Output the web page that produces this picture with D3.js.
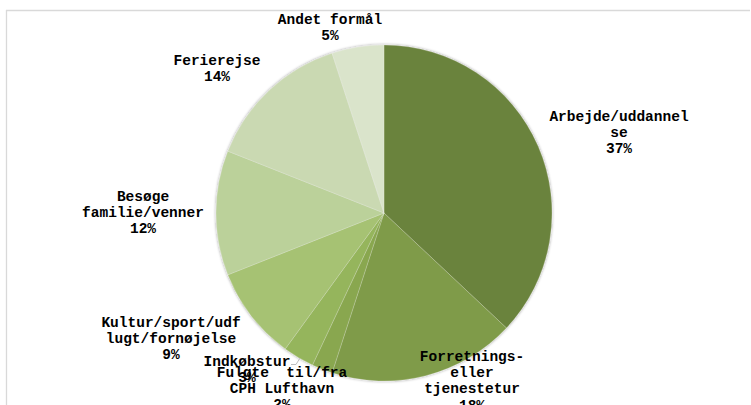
<!DOCTYPE html>
<html>
<head>
<meta charset="utf-8">
<script src="https://cdn.jsdelivr.net/npm/d3@7"></script>
<style>
html,body{margin:0;padding:0;background:#fff;}
svg{display:block;}
</style>
</head>
<body>
<svg id="chart" width="751" height="405"></svg>
<script>
const categories = [
  "Arbejde/uddannelse",
  "Forretnings- eller tjenestetur",
  "Fulgte til/fra CPH Lufthavn",
  "Indkøbstur",
  "Kultur/sport/udflugt/fornøjelse",
  "Besøge familie/venner",
  "Ferierejse",
  "Andet formål"
];
const values = [37, 18, 2, 3, 9, 12, 14, 5];
const labelLines = [
  ["Arbejde/uddannel", "se", "37%"],
  ["Forretnings-", "eller", "tjenestetur", "18%"],
  ["Fulgte  til/fra", "CPH Lufthavn", "2%"],
  ["Indkøbstur", "3%"],
  ["Kultur/sport/udf", "lugt/fornøjelse", "9%"],
  ["Besøge", "familie/venner", "12%"],
  ["Ferierejse", "14%"],
  ["Andet formål", "5%"]
];

// styles / layout (kept separate from data)
const colors = ["#6b833c", "#7f9b48", "#89a74f", "#95b55b", "#a6c273", "#bbd19a", "#cad9b2", "#dae4cb"];
const labelPos = [
  [619, 117], [472, 357], [282, 373], [247, 362],
  [171, 323], [143, 197], [217, 61], [330, 20]
];
const lineH = 16.2;

const svg = d3.select("#chart");
const W = 751, H = 405;

// chart border (top and left lines)
svg.append("line").attr("x1", 6).attr("y1", 10.5).attr("x2", 750).attr("y2", 10.5)
  .attr("stroke", "#d9d9d9").attr("stroke-width", 1.3);
svg.append("line").attr("x1", 6.5).attr("y1", 10).attr("x2", 6.5).attr("y2", H)
  .attr("stroke", "#d9d9d9").attr("stroke-width", 1.3);

const defs = svg.append("defs");
const f = defs.append("filter").attr("id", "sh").attr("x", "-10%").attr("y", "-10%").attr("width", "120%").attr("height", "120%");
f.append("feDropShadow").attr("dx", 0).attr("dy", 0).attr("stdDeviation", 1.6)
  .attr("flood-color", "#000").attr("flood-opacity", 0.45);

const cx = 384, cy = 213, r = 168;
const pie = d3.pie().value(d => d).sort(null);
const arc = d3.arc().innerRadius(0).outerRadius(r);

const g = svg.append("g").attr("transform", `translate(${cx},${cy})`);
const arcs = pie(values);
const pg = g.append("g").attr("filter", "url(#sh)");
pg.selectAll("path").data(arcs).join("path")
  .attr("d", arc)
  .attr("fill", (d, i) => colors[i])
  .attr("stroke", "rgba(255,255,255,0.35)")
  .attr("stroke-width", 0.6);

// leader line for Indkøbstur
svg.append("polyline")
  .attr("points", "291,364.5 296,364.5 300,358")
  .attr("fill", "none").attr("stroke", "#bfbfbf").attr("stroke-width", 1);

const tg = svg.append("g")
  .attr("font-family", "'Liberation Mono', 'Courier New', monospace")
  .attr("font-weight", "bold")
  .attr("font-size", "14.5px")
  .attr("fill", "#000")
  .attr("text-anchor", "middle");

labelLines.forEach((lines, i) => {
  const [x, y] = labelPos[i];
  const t = tg.append("text").attr("x", x).attr("y", y).attr("dominant-baseline", "central");
  lines.forEach((ln, j) => {
    t.append("tspan").attr("x", x).attr("y", y + j * lineH).attr("xml:space", "preserve")
      .style("white-space", "pre").text(ln);
  });
});
</script>
</body>
</html>
